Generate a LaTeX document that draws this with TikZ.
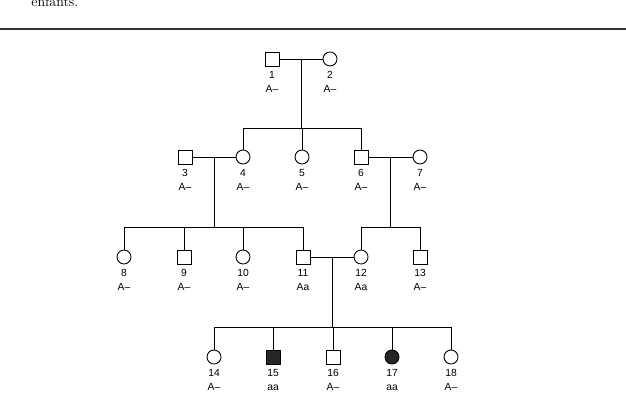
\documentclass[tikz,border=0pt]{standalone}
\usepackage{fontspec}
\usepackage{tikz}
\usetikzlibrary{positioning}
\newfontfamily\idfont{Liberation Sans}

\begin{document}
\begin{tikzpicture}[x=0.03cm,y=-0.03cm,line width=0.75pt,
    male/.style={draw,rectangle,minimum size=0.42cm,inner sep=0},
    female/.style={draw,circle,minimum size=0.42cm,inner sep=0},
    aff/.style={fill=black!85},
    id/.style={font=\fontsize{8.8}{12}\selectfont\idfont,align=center,inner sep=0,below=4pt of #1}]
  \useasboundingbox (0,0) rectangle (626,404);
  \node[anchor=base west,inner sep=0,font=\fontsize{12}{14}\selectfont] (txt) at (31,7) {enfants.};
  \draw[line width=0.9pt,black!80] (0,29) -- (626,29);

  % generation I
  \node[male] (p1) at (272,59) {};
  \node[female] (p2) at (330,59) {};
  % generation II
  \node[male] (p3) at (185,157) {};
  \node[female] (p4) at (243,157) {};
  \node[female] (p5) at (302,157) {};
  \node[male] (p6) at (361,157) {};
  \node[female] (p7) at (420,157) {};
  % generation III
  \node[female] (p8) at (124,257) {};
  \node[male] (p9) at (184,257) {};
  \node[female] (p10) at (243,257) {};
  \node[male] (p11) at (303,257) {};
  \node[female] (p12) at (361,257) {};
  \node[male] (p13) at (420,257) {};
  % generation IV
  \node[female] (p14) at (214,357) {};
  \node[male,aff] (p15) at (273,357) {};
  \node[male] (p16) at (333,357) {};
  \node[female,aff] (p17) at (392,357) {};
  \node[female] (p18) at (451,357) {};

  % labels
  \node[id=p1] (l1) {1\\A–};
  \node[id=p2] (l2) {2\\A–};
  \node[id=p3] (l3) {3\\A–};
  \node[id=p4] (l4) {4\\A–};
  \node[id=p5] (l5) {5\\A–};
  \node[id=p6] (l6) {6\\A–};
  \node[id=p7] (l7) {7\\A–};
  \node[id=p8] (l8) {8\\A–};
  \node[id=p9] (l9) {9\\A–};
  \node[id=p10] (l10) {10\\A–};
  \node[id=p11] (l11) {11\\Aa};
  \node[id=p12] (l12) {12\\Aa};
  \node[id=p13] (l13) {13\\A–};
  \node[id=p14] (l14) {14\\A–};
  \node[id=p15] (l15) {15\\aa};
  \node[id=p16] (l16) {16\\A–};
  \node[id=p17] (l17) {17\\aa};
  \node[id=p18] (l18) {18\\A–};

  % sibship lines
  \coordinate (s1) at (0,128);
  \coordinate (s2) at (0,227);
  \coordinate (s3) at (0,327);

  % couples
  \draw (p1) -- coordinate[midway] (m12) (p2);
  \draw (p3) -- coordinate[midway] (m34) (p4);
  \draw (p6) -- coordinate[midway] (m67) (p7);
  \draw (p11) -- coordinate[midway] (m1112) (p12);

  % descent
  \draw (m12) -- (m12 |- s1);
  \draw (p4 |- s1) -- (p6 |- s1);
  \foreach \c in {p4,p5,p6} \draw (\c |- s1) -- (\c);

  \draw (m34) -- (m34 |- s2);
  \draw (p8 |- s2) -- (p11 |- s2);
  \foreach \c in {p8,p9,p10,p11} \draw (\c |- s2) -- (\c);

  \draw (m67) -- (m67 |- s2);
  \draw (p12 |- s2) -- (p13 |- s2);
  \foreach \c in {p12,p13} \draw (\c |- s2) -- (\c);

  \draw (m1112) -- (m1112 |- s3);
  \draw (p14 |- s3) -- (p18 |- s3);
  \foreach \c in {p14,p15,p16,p17,p18} \draw (\c |- s3) -- (\c);
\end{tikzpicture}
\end{document}
